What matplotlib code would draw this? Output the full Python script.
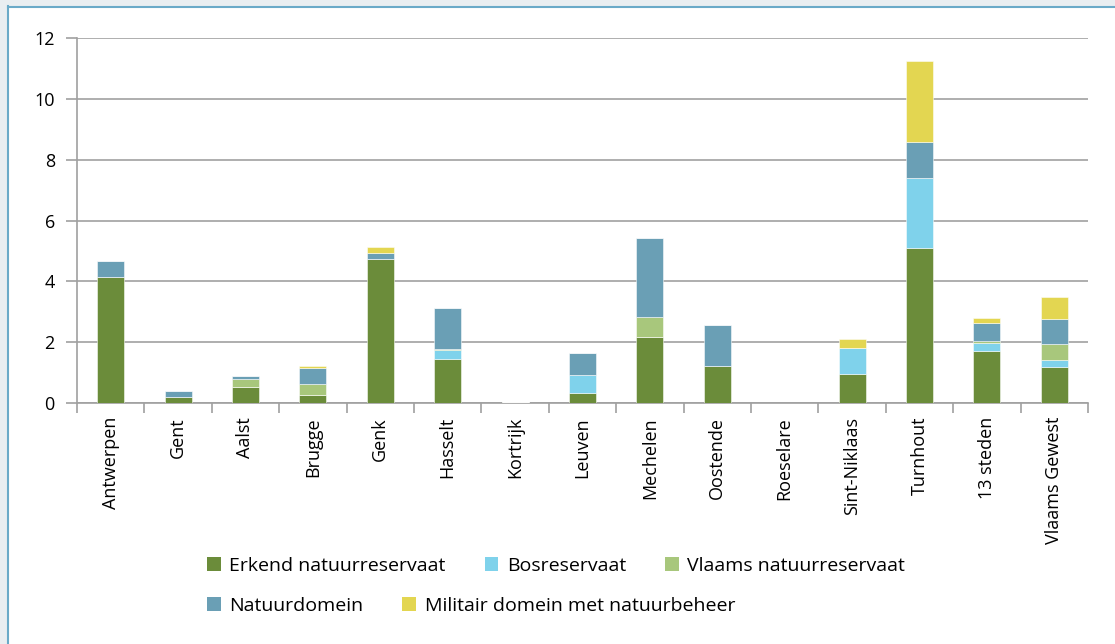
import numpy as np
import matplotlib as mpl
import matplotlib.pyplot as plt
from matplotlib.patches import Rectangle, Patch

mpl.use('agg')
plt.rcParams['font.family'] = ['Open Sans', 'DejaVu Sans']

steden = ['Antwerpen', 'Gent', 'Aalst', 'Brugge', 'Genk', 'Hasselt', 'Kortrijk',
          'Leuven', 'Mechelen', 'Oostende', 'Roeselare', 'Sint-Niklaas',
          'Turnhout', '13 steden', 'Vlaams Gewest']

erkend = [4.15, 0.20, 0.54, 0.26, 4.73, 1.44, 0.03, 0.34, 2.18, 1.22, 0.0, 0.94, 5.08, 1.72, 1.20]
bos = [0.0, 0.0, 0.0, 0.0, 0.0, 0.29, 0.0, 0.58, 0.0, 0.0, 0.0, 0.86, 2.33, 0.24, 0.23]
vlaams = [0.0, 0.0, 0.25, 0.35, 0.0, 0.03, 0.0, 0.0, 0.65, 0.0, 0.0, 0.0, 0.0, 0.07, 0.50]
natuurdomein = [0.51, 0.20, 0.10, 0.55, 0.20, 1.35, 0.0, 0.72, 2.59, 1.35, 0.0, 0.0, 1.18, 0.60, 0.84]
militair = [0.0, 0.0, 0.0, 0.06, 0.21, 0.0, 0.0, 0.0, 0.0, 0.0, 0.0, 0.29, 2.66, 0.16, 0.71]

series = [
    ('Erkend natuurreservaat', erkend, '#6b8c3a'),
    ('Bosreservaat', bos, '#7fd2eb'),
    ('Vlaams natuurreservaat', vlaams, '#a8c77c'),
    ('Natuurdomein', natuurdomein, '#6a9fb5'),
    ('Militair domein met natuurbeheer', militair, '#e3d651'),
]

fig = plt.figure(figsize=(11.15, 6.44), dpi=100)
fig.patch.set_facecolor('white')

# frame around the panel
fig.patches.append(Rectangle((0, 0), 7 / 1115, 1, transform=fig.transFigure,
                             facecolor='#e9eef1', edgecolor='none', zorder=0))
fig.patches.append(Rectangle((0, 1 - 6 / 644), 1, 6 / 644, transform=fig.transFigure,
                             facecolor='#e9eef1', edgecolor='none', zorder=0))
fig.add_artist(plt.Line2D([7.5 / 1115, 7.5 / 1115], [0, 1 - 6 / 644], transform=fig.transFigure,
                          color='#6aaac8', lw=1.5))
fig.add_artist(plt.Line2D([7.5 / 1115, 1], [1 - 6.5 / 644, 1 - 6.5 / 644], transform=fig.transFigure,
                          color='#6aaac8', lw=1.5))

ax = fig.add_axes([77 / 1115, 1 - 403 / 644, (1088 - 77) / 1115, (403 - 38) / 644])

x = np.arange(len(steden))
bottom = np.zeros(len(steden))
for name, vals, col in series:
    vals = np.array(vals)
    ax.bar(x, vals, 0.4, bottom=bottom, color=col, edgecolor=(1, 1, 1, 0.6),
           linewidth=0.6, label=name, zorder=3)
    bottom += vals

ax.set_xlim(-0.5, len(steden) - 0.5)
ax.set_ylim(0, 12)
ax.set_yticks(np.arange(0, 13, 2))
ax.yaxis.grid(True, color='#a8a8a8', lw=1.3, zorder=0)
ax.set_xticks(x)
ax.set_xticklabels(steden, rotation=90, fontsize=13)
ax.set_xticks(np.arange(-0.5, len(steden), 1), minor=True)
ax.tick_params(axis='x', which='major', length=0, pad=10)
ax.tick_params(axis='x', which='minor', length=7, color='#a0a0a0', width=1.2)
ax.tick_params(axis='y', length=8, color='#a0a0a0', width=1.2, labelsize=13, pad=8)

for s in ['top', 'right']:
    ax.spines[s].set_visible(False)
for s in ['left', 'bottom']:
    ax.spines[s].set_color('#a0a0a0')
    ax.spines[s].set_linewidth(1.2)

handles = [Patch(facecolor=c, label=n) for n, v, c in series]
leg_kw = dict(frameon=False, fontsize=14, handlelength=0.7, handleheight=0.7,
              handletextpad=0.45, columnspacing=2.0, borderpad=0, borderaxespad=0)
fig.legend(handles=handles[:3], loc='center left', bbox_to_anchor=(207 / 1115, 1 - 566 / 644),
           ncol=3, **leg_kw)
fig.legend(handles=handles[3:], loc='center left', bbox_to_anchor=(207 / 1115, 1 - 606 / 644),
           ncol=2, **leg_kw)

fig.savefig('out.png', dpi=100)
